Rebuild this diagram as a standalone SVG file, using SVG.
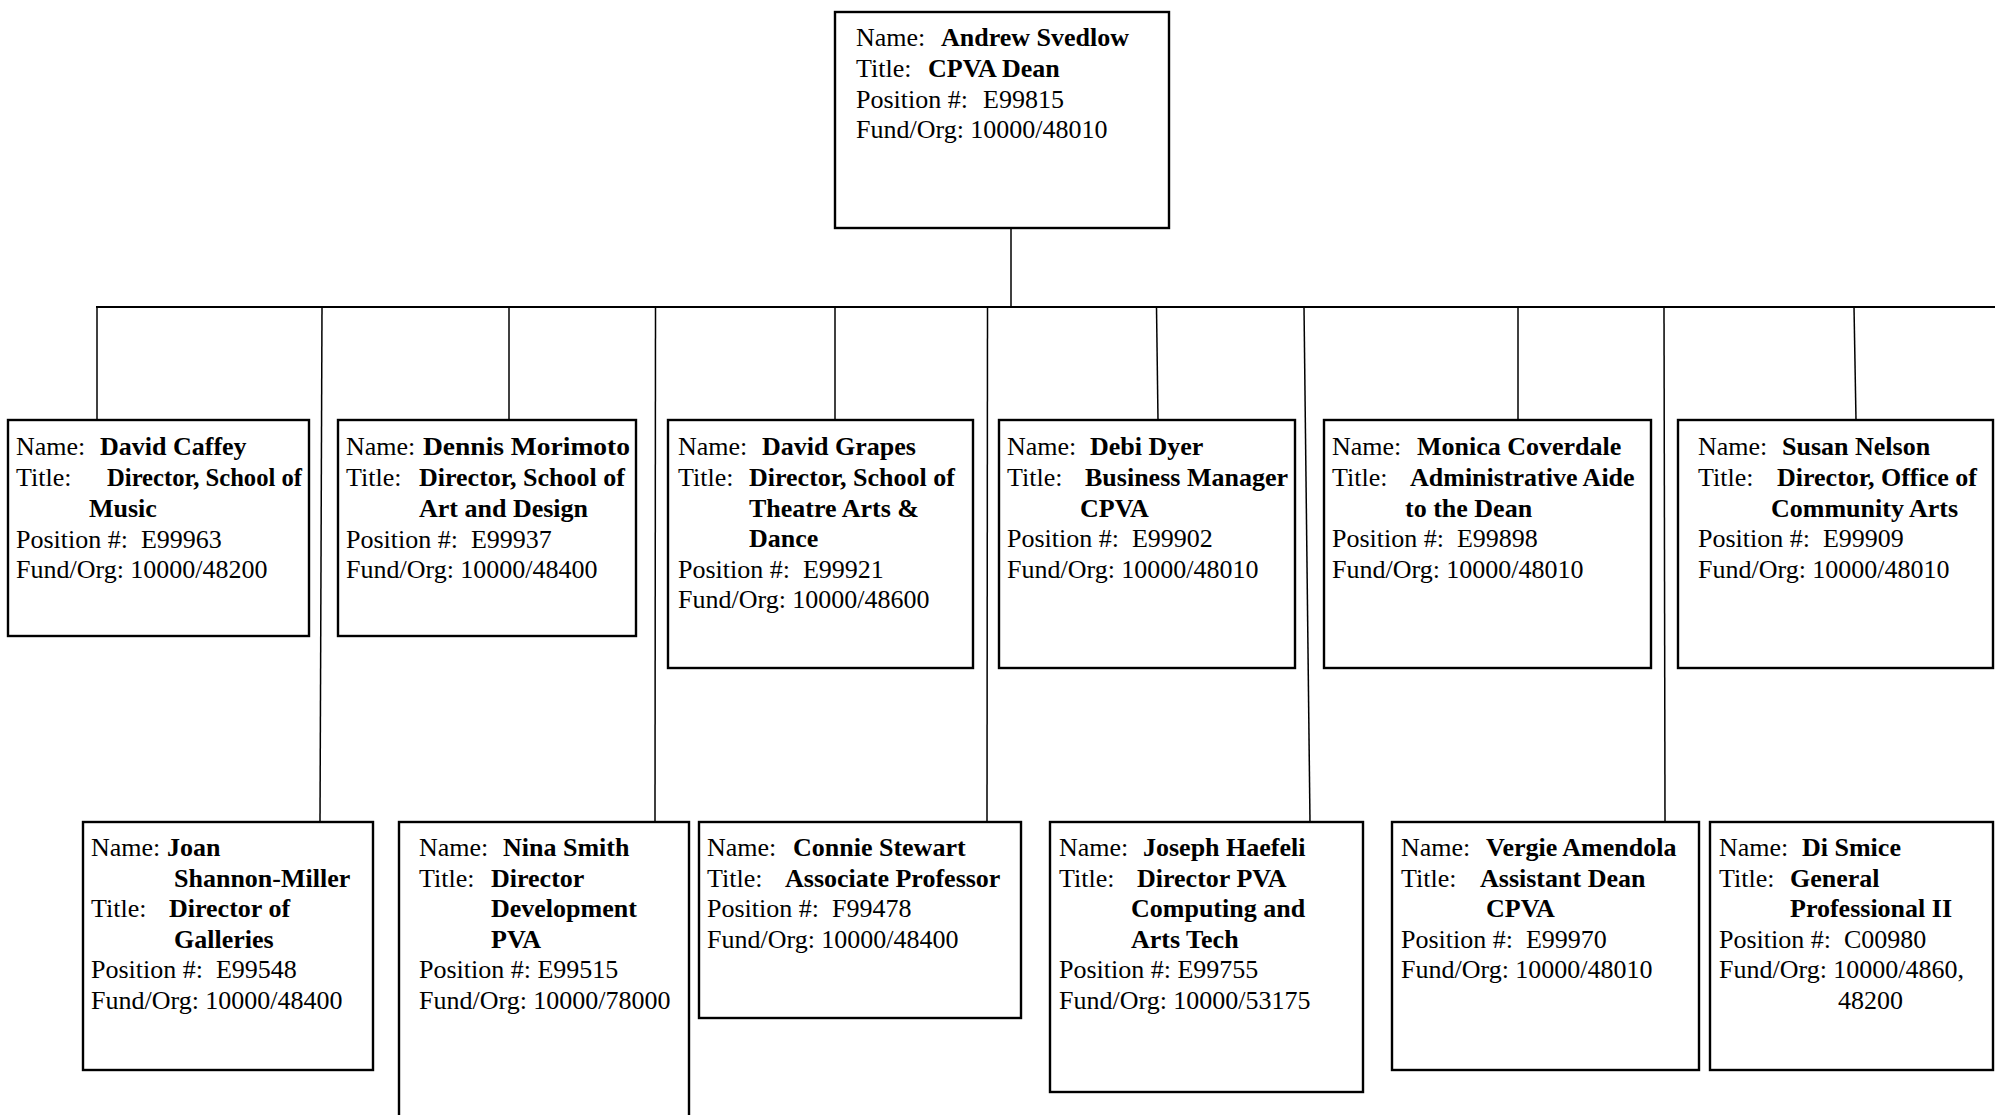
<svg xmlns="http://www.w3.org/2000/svg" width="1995" height="1115" viewBox="0 0 1995 1115">
<style>
.box{fill:#fff;stroke:#000;stroke-width:2.4}
.ln{fill:none;stroke:#000;stroke-width:1.5}
.bus{fill:none;stroke:#000;stroke-width:2.2}
text{font-family:"Liberation Serif","Times New Roman",serif;font-size:26px;fill:#000}
.b{font-weight:bold}
</style>
<rect width="1995" height="1115" fill="#fff"/>
<g id="connectors">
<line class="ln" x1="1011" y1="228" x2="1011" y2="308"/>
<line class="bus" x1="96" y1="307" x2="1995" y2="307"/>
<line class="ln" x1="97" y1="307" x2="97" y2="420"/>
<line class="ln" x1="322" y1="307" x2="320" y2="822"/>
<line class="ln" x1="509" y1="307" x2="509" y2="420"/>
<line class="ln" x1="655.5" y1="307" x2="655" y2="822"/>
<line class="ln" x1="835" y1="307" x2="835" y2="420"/>
<line class="ln" x1="987.5" y1="307" x2="987" y2="822"/>
<line class="ln" x1="1156.5" y1="307" x2="1158" y2="420"/>
<line class="ln" x1="1304" y1="307" x2="1310" y2="822"/>
<line class="ln" x1="1518" y1="307" x2="1518" y2="420"/>
<line class="ln" x1="1664" y1="307" x2="1665" y2="822"/>
<line class="ln" x1="1854" y1="307" x2="1856" y2="420"/>
</g>
<g id="dean">
<rect class="box" x="835" y="12" width="334" height="216"/>
<text x="856" y="46">Name: <tspan class="b" x="941">Andrew Svedlow</tspan></text>
<text x="856" y="77">Title: <tspan class="b" x="928">CPVA Dean</tspan></text>
<text x="856" y="108">Position #: <tspan x="983">E99815</tspan></text>
<text x="856" y="138">Fund/Org: 10000/48010</text>
</g>
<g id="caffey">
<rect class="box" x="8" y="420" width="301" height="216"/>
<text x="16" y="455">Name: <tspan class="b" x="100">David Caffey</tspan></text>
<text x="16" y="486">Title: <tspan class="b" x="107" textLength="195" lengthAdjust="spacingAndGlyphs">Director, School of</tspan></text>
<text class="b" x="89" y="517">Music</text>
<text x="16" y="548" xml:space="preserve">Position #:  E99963</text>
<text x="16" y="578">Fund/Org: 10000/48200</text>
</g>
<g id="morimoto">
<rect class="box" x="338" y="420" width="298" height="216"/>
<text x="346" y="455">Name: <tspan class="b" x="423" textLength="207" lengthAdjust="spacingAndGlyphs">Dennis Morimoto</tspan></text>
<text x="346" y="486">Title: <tspan class="b" x="419">Director, School of</tspan></text>
<text class="b" x="419" y="517">Art and Design</text>
<text x="346" y="548" xml:space="preserve">Position #:  E99937</text>
<text x="346" y="578">Fund/Org: 10000/48400</text>
</g>
<g id="grapes">
<rect class="box" x="668" y="420" width="305" height="248"/>
<text x="678" y="455">Name: <tspan class="b" x="762">David Grapes</tspan></text>
<text x="678" y="486">Title: <tspan class="b" x="749">Director, School of</tspan></text>
<text class="b" x="749" y="517">Theatre Arts &amp;</text>
<text class="b" x="749" y="547">Dance</text>
<text x="678" y="578" xml:space="preserve">Position #:  E99921</text>
<text x="678" y="608">Fund/Org: 10000/48600</text>
</g>
<g id="dyer">
<rect class="box" x="999" y="420" width="296" height="248"/>
<text x="1007" y="455">Name: <tspan class="b" x="1090">Debi Dyer</tspan></text>
<text x="1007" y="486">Title: <tspan class="b" x="1085">Business Manager</tspan></text>
<text class="b" x="1080" y="517">CPVA</text>
<text x="1007" y="547" xml:space="preserve">Position #:  E99902</text>
<text x="1007" y="578">Fund/Org: 10000/48010</text>
</g>
<g id="coverdale">
<rect class="box" x="1324" y="420" width="327" height="248"/>
<text x="1332" y="455">Name: <tspan class="b" x="1417">Monica Coverdale</tspan></text>
<text x="1332" y="486">Title: <tspan class="b" x="1410">Administrative Aide</tspan></text>
<text class="b" x="1405" y="517">to the Dean</text>
<text x="1332" y="547" xml:space="preserve">Position #:  E99898</text>
<text x="1332" y="578">Fund/Org: 10000/48010</text>
</g>
<g id="nelson">
<rect class="box" x="1678" y="420" width="315" height="248"/>
<text x="1698" y="455">Name: <tspan class="b" x="1782">Susan Nelson</tspan></text>
<text x="1698" y="486">Title: <tspan class="b" x="1777">Director, Office of</tspan></text>
<text class="b" x="1771" y="517">Community Arts</text>
<text x="1698" y="547" xml:space="preserve">Position #:  E99909</text>
<text x="1698" y="578">Fund/Org: 10000/48010</text>
</g>
<g id="shannon-miller">
<rect class="box" x="83" y="822" width="290" height="248"/>
<text x="91" y="856">Name: <tspan class="b" x="167">Joan</tspan></text>
<text class="b" x="174" y="887">Shannon-Miller</text>
<text x="91" y="917">Title: <tspan class="b" x="169">Director of</tspan></text>
<text class="b" x="174" y="948">Galleries</text>
<text x="91" y="978" xml:space="preserve">Position #:  E99548</text>
<text x="91" y="1009">Fund/Org: 10000/48400</text>
</g>
<g id="smith">
<rect class="box" x="399" y="822" width="290" height="310"/>
<text x="419" y="856">Name: <tspan class="b" x="503">Nina Smith</tspan></text>
<text x="419" y="887">Title: <tspan class="b" x="491">Director</tspan></text>
<text class="b" x="491" y="917">Development</text>
<text class="b" x="491" y="948">PVA</text>
<text x="419" y="978">Position #: E99515</text>
<text x="419" y="1009">Fund/Org: 10000/78000</text>
</g>
<g id="stewart">
<rect class="box" x="699" y="822" width="322" height="196"/>
<text x="707" y="856">Name: <tspan class="b" x="793">Connie Stewart</tspan></text>
<text x="707" y="887">Title: <tspan class="b" x="785">Associate Professor</tspan></text>
<text x="707" y="917" xml:space="preserve">Position #:  F99478</text>
<text x="707" y="948">Fund/Org: 10000/48400</text>
</g>
<g id="haefeli">
<rect class="box" x="1050" y="822" width="313" height="270"/>
<text x="1059" y="856">Name: <tspan class="b" x="1143">Joseph Haefeli</tspan></text>
<text x="1059" y="887">Title: <tspan class="b" x="1137">Director PVA</tspan></text>
<text class="b" x="1131" y="917">Computing and</text>
<text class="b" x="1131" y="948">Arts Tech</text>
<text x="1059" y="978">Position #: E99755</text>
<text x="1059" y="1009">Fund/Org: 10000/53175</text>
</g>
<g id="amendola">
<rect class="box" x="1392" y="822" width="307" height="248"/>
<text x="1401" y="856">Name: <tspan class="b" x="1486">Vergie Amendola</tspan></text>
<text x="1401" y="887">Title: <tspan class="b" x="1480">Assistant Dean</tspan></text>
<text class="b" x="1486" y="917">CPVA</text>
<text x="1401" y="948" xml:space="preserve">Position #:  E99970</text>
<text x="1401" y="978">Fund/Org: 10000/48010</text>
</g>
<g id="smice">
<rect class="box" x="1710" y="822" width="283" height="248"/>
<text x="1719" y="856">Name: <tspan class="b" x="1802">Di Smice</tspan></text>
<text x="1719" y="887">Title: <tspan class="b" x="1790">General</tspan></text>
<text class="b" x="1790" y="917">Professional II</text>
<text x="1719" y="948" xml:space="preserve">Position #:  C00980</text>
<text x="1719" y="978">Fund/Org: 10000/4860,</text>
<text x="1838" y="1009">48200</text>
</g>
</svg>
